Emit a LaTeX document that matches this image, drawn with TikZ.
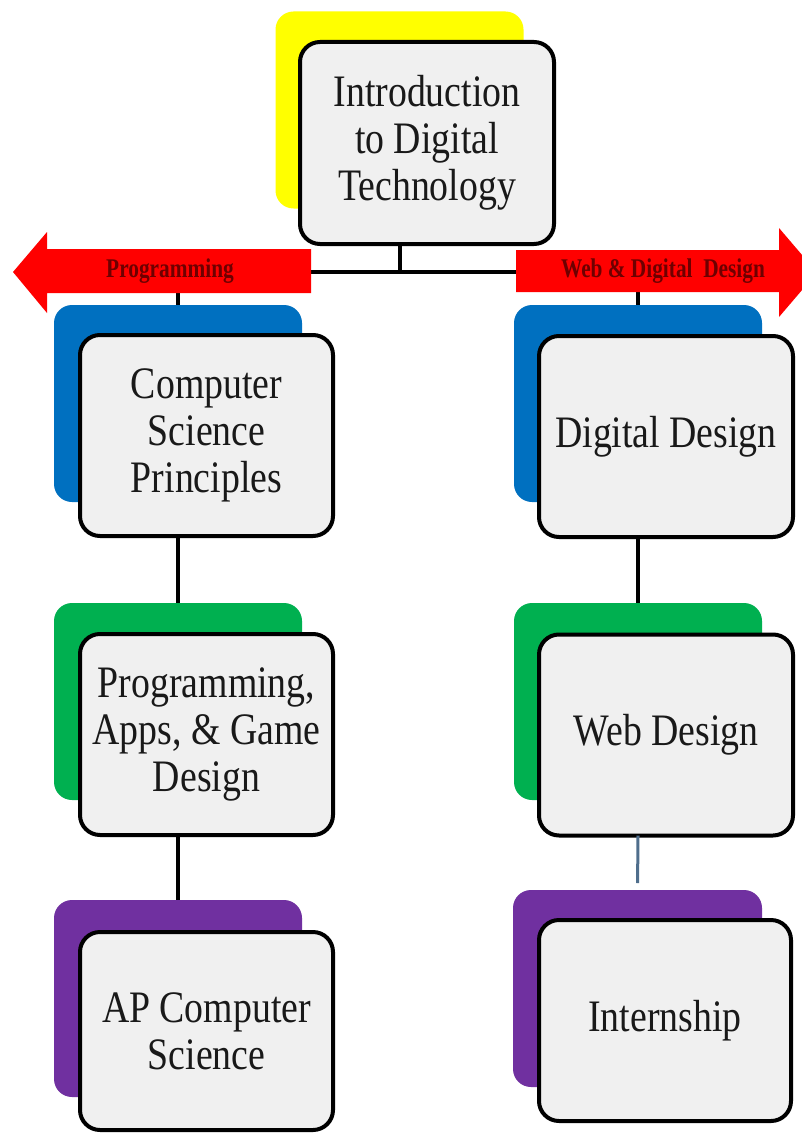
\documentclass[tikz,border=0pt]{standalone}
\usepackage{fontspec}
\setmainfont[FakeStretch=0.84]{Liberation Serif}
\newfontfamily\lblfont[FakeStretch=0.79]{Liberation Serif}
\definecolor{ybox}{HTML}{FFFF00}
\definecolor{bbox}{HTML}{0070C0}
\definecolor{gbox}{HTML}{00B050}
\definecolor{pbox}{HTML}{7030A0}
\definecolor{cardgray}{HTML}{F0F0F0}
\definecolor{arrowred}{HTML}{FF0000}
\definecolor{lblred}{HTML}{6E0000}
\definecolor{steel}{HTML}{4F6E8C}
\tikzset{
  backbox/.style={rectangle, rounded corners=18pt, inner sep=0pt, outer sep=0pt,
    minimum width=248pt, minimum height=197pt},
  cardbox/.style={rectangle, rounded corners=20pt, draw=black, line width=4pt,
    fill=cardgray, inner sep=0pt, outer sep=0pt, minimum width=253pt,
    minimum height=201pt, align=center, text=black!90,
    font=\fontsize{45}{47}\selectfont},
  link/.style={line width=4pt, black},
  bigarrow/.style={fill=arrowred},
  lbl/.style={inner sep=0pt, text=lblred, font={\lblfont\bfseries\fontsize{27}{29}\selectfont}}
}
\begin{document}
\begin{tikzpicture}[x=1pt,y=-1pt]
\useasboundingbox (0,0) rectangle (802,1134);
\fill[white] (0,0) rectangle (802,1134);
\clip (0,0) rectangle (802,1134);
% top
\node[backbox, fill=ybox] (introbg) at (399.5,110) {};
\node[cardbox, minimum width=254pt, minimum height=202pt] (intro) at (427,143) {Introduction\\to Digital\\Technology};
% left column
\node[backbox, fill=bbox] (cspbg) at (178,403.5) {};
\node[cardbox] (csp) at (206.5,435.5) {Computer\\Science\\Principles};
\node[backbox, fill=gbox] (pagbg) at (178,701.5) {};
\node[cardbox] (pag) at (206.5,734.5) {Programming,\\Apps, \& Game\\Design};
\node[backbox, fill=pbox] (apbg) at (178,998.5) {};
\node[cardbox, minimum height=198pt] (ap) at (206.5,1031) {AP Computer\\Science};
% right column
\node[backbox, fill=bbox] (ddbg) at (638,403.5) {};
\node[cardbox, minimum width=254pt] (dd) at (666,436.5) {Digital Design};
\node[backbox, fill=gbox] (wdbg) at (638,701.5) {};
\node[cardbox, minimum width=254pt] (wd) at (666,735) {Web Design};
\node[backbox, fill=pbox, minimum width=249pt] (intbg) at (637.5,988.5) {};
\node[cardbox, minimum width=252pt] (int) at (665,1020.5) {Internship};
% connectors
\coordinate (hub) at (399.5,272);
\draw[link] (intro.south -| introbg.center) -- (hub);
\draw[link] (hub) -| (cspbg.north);
\draw[link] (hub) -| (ddbg.north);
\draw[link] (csp.south -| cspbg.center) -- (pagbg.north);
\draw[link] (pag.south -| pagbg.center) -- (apbg.north);
\draw[link] (dd.south -| ddbg.center) -- (wdbg.north);
\draw[line width=3pt, steel, shorten >=7pt] (wd.south -| wdbg.center) -- (intbg.north);
% arrows
\fill[bigarrow] (311,249) -- (47,249) -- (47,232) -- (13,272) -- (47,313) -- (47,293) -- (311,293) -- cycle;
\fill[bigarrow] (516,250) -- (779,250) -- (779,228) -- (817,272.5) -- (779,317) -- (779,292) -- (516,292) -- cycle;
\node[lbl] (plbl) at (170,271) {Programming};
\node[lbl] (wlbl) at (663,271) {Web \& Digital\ \ Design};
\end{tikzpicture}
\end{document}
